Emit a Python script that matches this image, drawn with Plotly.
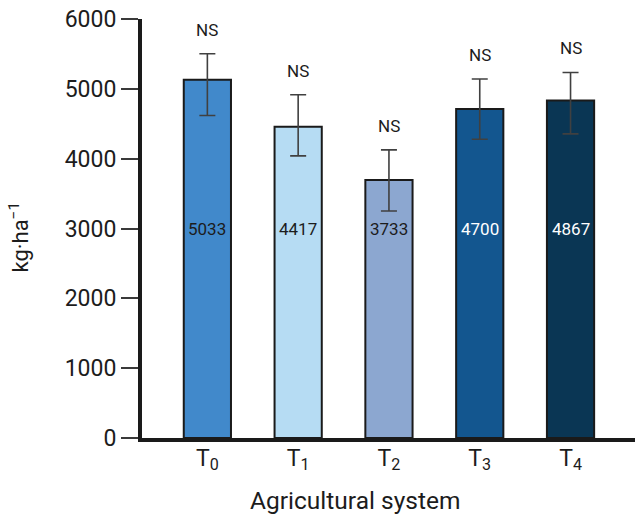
import plotly.graph_objects as go

categories = ["T<sub>0</sub>", "T<sub>1</sub>", "T<sub>2</sub>", "T<sub>3</sub>", "T<sub>4</sub>"]
bar_values = [5130, 4456, 3696, 4710, 4833]
err_top = [5503, 4915, 4126, 5140, 5234]
err_bottom = [4618, 4040, 3251, 4279, 4355]
value_labels = ["5033", "4417", "3733", "4700", "4867"]
sig_labels = ["NS", "NS", "NS", "NS", "NS"]
y_ticks = [0, 1000, 2000, 3000, 4000, 5000, 6000]

bar_colors = ["#4189CB", "#B6DCF3", "#8CA7D0", "#13568F", "#0A3654"]
label_colors = ["#1c1c1c", "#1c1c1c", "#1c1c1c", "#ffffff", "#ffffff"]

err_plus = [t - v for t, v in zip(err_top, bar_values)]
err_minus = [v - b for v, b in zip(bar_values, err_bottom)]

fig = go.Figure()
fig.add_trace(go.Bar(
    x=categories,
    y=bar_values,
    marker=dict(color=bar_colors, line=dict(color="#1a1a1a", width=2)),
    error_y=dict(type="data", symmetric=False, array=err_plus, arrayminus=err_minus,
                 color="#404040", thickness=1.6, width=8),
    width=0.52,
    showlegend=False,
    hoverinfo="skip",
))

annotations = []
for c, lab, col in zip(categories, value_labels, label_colors):
    annotations.append(dict(x=c, y=3000, text=lab, showarrow=False,
                            font=dict(family="Roboto", size=17, color=col),
                            xanchor="center", yanchor="middle"))
for c, s, t in zip(categories, sig_labels, err_top):
    annotations.append(dict(x=c, y=t, text=s, showarrow=False,
                            font=dict(family="Roboto", size=17, color="#1c1c1c"),
                            xanchor="center", yanchor="bottom", yshift=12))

# axis titles
annotations.append(dict(xref="paper", yref="paper", x=0.432, y=0, xanchor="center", yanchor="middle",
                        yshift=-62, text="Agricultural system", showarrow=False,
                        font=dict(family="Roboto", size=24.5, color="#1c1c1c")))
annotations.append(dict(xref="paper", yref="paper", x=0, y=0.5, xanchor="center", yanchor="middle",
                        xshift=-124, yshift=-9, textangle=-90, text="kg·ha<sup>−1</sup>", showarrow=False,
                        font=dict(family="Roboto", size=22, color="#1c1c1c")))

fig.update_layout(
    width=635, height=515,
    margin=dict(l=142, r=0, t=19, b=77),
    paper_bgcolor="white", plot_bgcolor="white",
    font=dict(family="Roboto", color="#1c1c1c"),
    annotations=annotations,
    xaxis=dict(
        type="category",
        range=[-0.72, 4.71],
        automargin=False,
        showline=True, linecolor="#1a1a1a", linewidth=4,
        ticks="", showgrid=False, zeroline=False,
        ticklabelstandoff=-4,
        tickfont=dict(family="Roboto", size=23, color="#1c1c1c"),
    ),
    yaxis=dict(
        range=[0, 6000],
        automargin=False,
        tickvals=y_ticks,
        showline=True, linecolor="#1a1a1a", linewidth=4,
        ticks="outside", ticklen=17, tickwidth=1.6, tickcolor="#3a3a3a",
        showgrid=False, zeroline=False,
        tickfont=dict(family="Roboto", size=23, color="#1c1c1c"),
    ),
)

fig.write_html("out.html", config={"displayModeBar": False},
               post_script="document.body.style.margin='0';document.body.style.overflow='hidden';")
